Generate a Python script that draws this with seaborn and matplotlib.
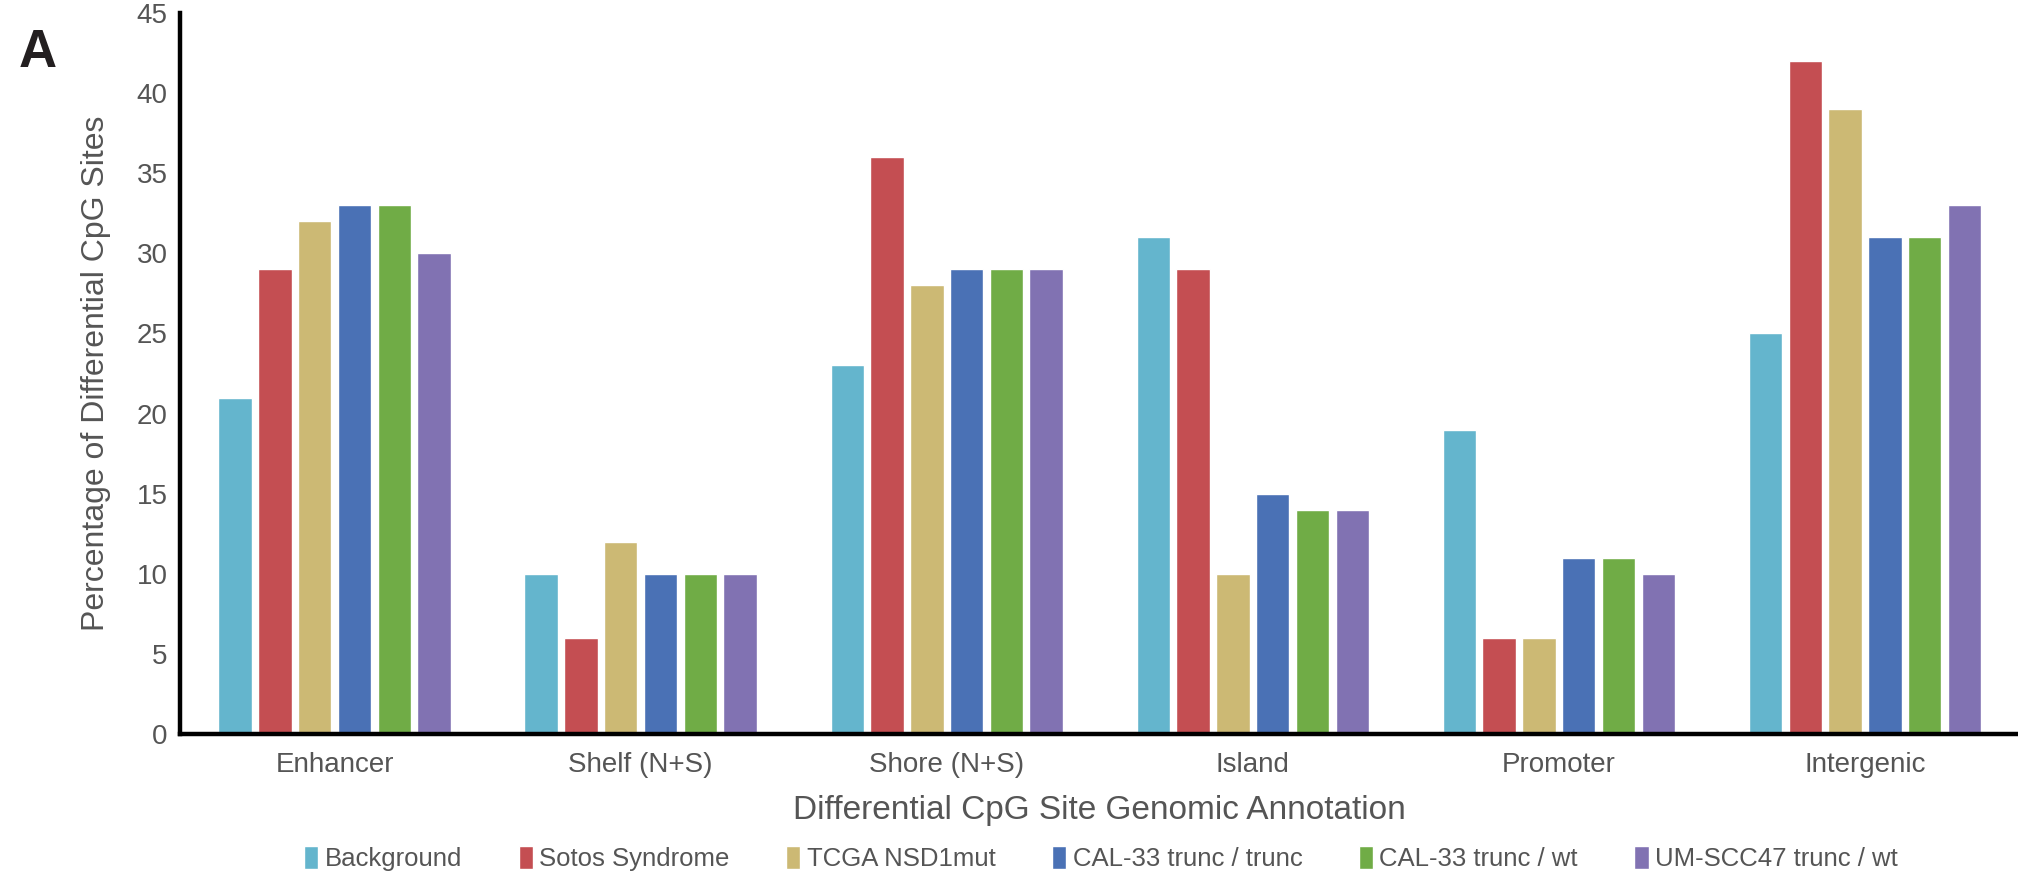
import matplotlib
matplotlib.use("Agg")
import matplotlib.pyplot as plt
import seaborn as sns
import pandas as pd

categories = ["Enhancer", "Shelf (N+S)", "Shore (N+S)", "Island", "Promoter", "Intergenic"]
series = ["Background", "Sotos Syndrome", "TCGA NSD1mut",
          "CAL-33 trunc / trunc", "CAL-33 trunc / wt", "UM-SCC47 trunc / wt"]
background = [21, 10, 23, 31, 19, 25]
sotos = [29, 6, 36, 29, 6, 42]
tcga = [32, 12, 28, 10, 6, 39]
cal33_tt = [33, 10, 29, 15, 11, 31]
cal33_tw = [33, 10, 29, 14, 11, 31]
umscc47 = [30, 10, 29, 14, 10, 33]
yticks = [0, 5, 10, 15, 20, 25, 30, 35, 40, 45]

colors = ["#64B5CD", "#C44E52", "#CCB974", "#4A71B5", "#70AC46", "#8172B2"]

values = [background, sotos, tcga, cal33_tt, cal33_tw, umscc47]
rows = []
for s, vals in zip(series, values):
    for c, v in zip(categories, vals):
        rows.append({"cat": c, "series": s, "value": v})
df = pd.DataFrame(rows)

sns.set_theme(style="white")
plt.rcParams["font.family"] = ["Liberation Sans", "DejaVu Sans"]

fig = plt.figure(figsize=(20.18, 8.74), dpi=100)
ax = fig.add_axes([180 / 2018, 1 - 734 / 874, 1 - 180 / 2018, (734 - 13) / 874])

sns.barplot(data=df, x="cat", y="value", hue="series", order=categories,
            hue_order=series, palette=colors, width=0.78, gap=0.16,
            saturation=1, legend=True, ax=ax)

ax.set_ylim(0, 45)
ax.set_xlim(-0.505, 5.5)
ax.set_yticks(yticks)
ax.set_yticklabels([str(t) for t in yticks])
ax.tick_params(axis="both", length=0, labelsize=20, colors="#555555")
ax.tick_params(axis="y", pad=9)
ax.tick_params(axis="x", pad=13)
for side in ["top", "right"]:
    ax.spines[side].set_visible(False)
for side in ["left", "bottom"]:
    ax.spines[side].set_color("black")
    ax.spines[side].set_linewidth(3.2)

ax.set_ylabel("Percentage of Differential CpG Sites", fontsize=23, color="#555555", labelpad=18)
ax.set_xlabel("Differential CpG Site Genomic Annotation", fontsize=24, color="#555555", labelpad=12)

handles, labels = ax.get_legend_handles_labels()
ax.legend_.remove()
fig.legend(handles, labels, loc="center", bbox_to_anchor=(0.5456, 0.018), ncol=6,
           frameon=False, fontsize=18.5, handlelength=0.55, handleheight=1.0,
           handletextpad=0.25, columnspacing=2.2, labelcolor="#555555")

fig.text(19 / 2018, 1 - 67 / 874, "A", fontsize=38, fontweight="bold", color="#231F20")

fig.savefig("out.png", dpi=100)
